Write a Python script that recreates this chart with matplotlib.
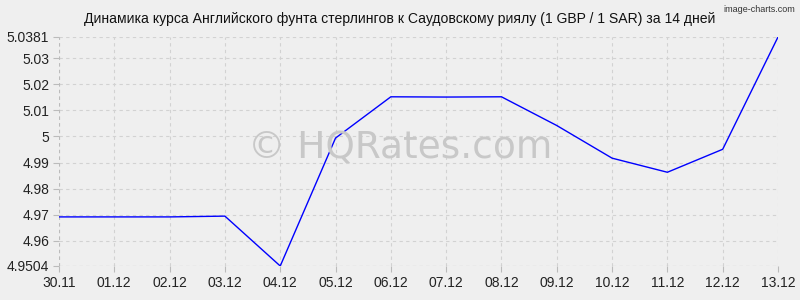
import matplotlib
matplotlib.use("Agg")
import matplotlib.pyplot as plt
from matplotlib.ticker import FixedLocator

dates = ["30.11", "01.12", "02.12", "03.12", "04.12", "05.12", "06.12",
         "07.12", "08.12", "09.12", "10.12", "11.12", "12.12", "13.12"]
rates = [4.9692, 4.9692, 4.9692, 4.9695, 4.9504, 4.9994, 5.0152,
         5.0151, 5.0152, 5.0042, 4.9917, 4.9863, 4.9951, 5.0381]
yticks = [4.9504, 4.96, 4.97, 4.98, 4.99, 5.0, 5.01, 5.02, 5.03, 5.0381]
ytick_labels = ["4.9504", "4.96", "4.97", "4.98", "4.99", "5", "5.01", "5.02", "5.03", "5.0381"]
title = "Динамика курса Английского фунта стерлингов к Саудовскому риялу (1 GBP / 1 SAR) за 14 дней"

fam = ["Liberation Sans", "DejaVu Sans"]
bg = "#efefef"

fig = plt.figure(figsize=(8, 3), dpi=100, facecolor=bg)
ax = fig.add_axes([59/800, 1-266/300, (778-59)/800, (266-37)/300])
ax.set_facecolor(bg)

x = list(range(len(dates)))
ax.plot(x, rates, color="#0000ff", lw=1.0, zorder=3)

ax.set_xlim(0, len(dates)-1)
ax.set_ylim(yticks[0], yticks[-1])
ax.xaxis.set_major_locator(FixedLocator(x))
ax.set_xticklabels(dates, fontsize=10, family=fam, color="#222222")
ax.yaxis.set_major_locator(FixedLocator(yticks))
ax.set_yticklabels(ytick_labels, fontsize=10, family=fam, color="#222222")
ax.tick_params(axis="both", length=4, color="#bbbbbb", width=0.8, pad=3)

ax.grid(True, color="#d2d2d2", ls=(0, (3, 3)), lw=0.8)
for s in ax.spines.values():
    s.set_visible(False)
ax.axvline(0, color="#bbbbbb", ls=(0, (3, 3)), lw=0.8)
ax.axhline(yticks[0], color="#bbbbbb", ls=(0, (3, 3)), lw=0.8)

fig.text(0.5, 1-19/300, title, ha="center", va="center", fontsize=10.1, family=fam, color="#111111")
fig.text(795/800, 1-10/300, "image-charts.com", ha="right", va="center", fontsize=6.5, family=fam, color="#333333")
fig.text(0.5, 1-148/300, "© HQRates.com", ha="center", va="center",
         fontsize=27, family="DejaVu Sans", color="#c8c8c8", zorder=1)

fig.savefig("out.png", dpi=100, facecolor=bg)
